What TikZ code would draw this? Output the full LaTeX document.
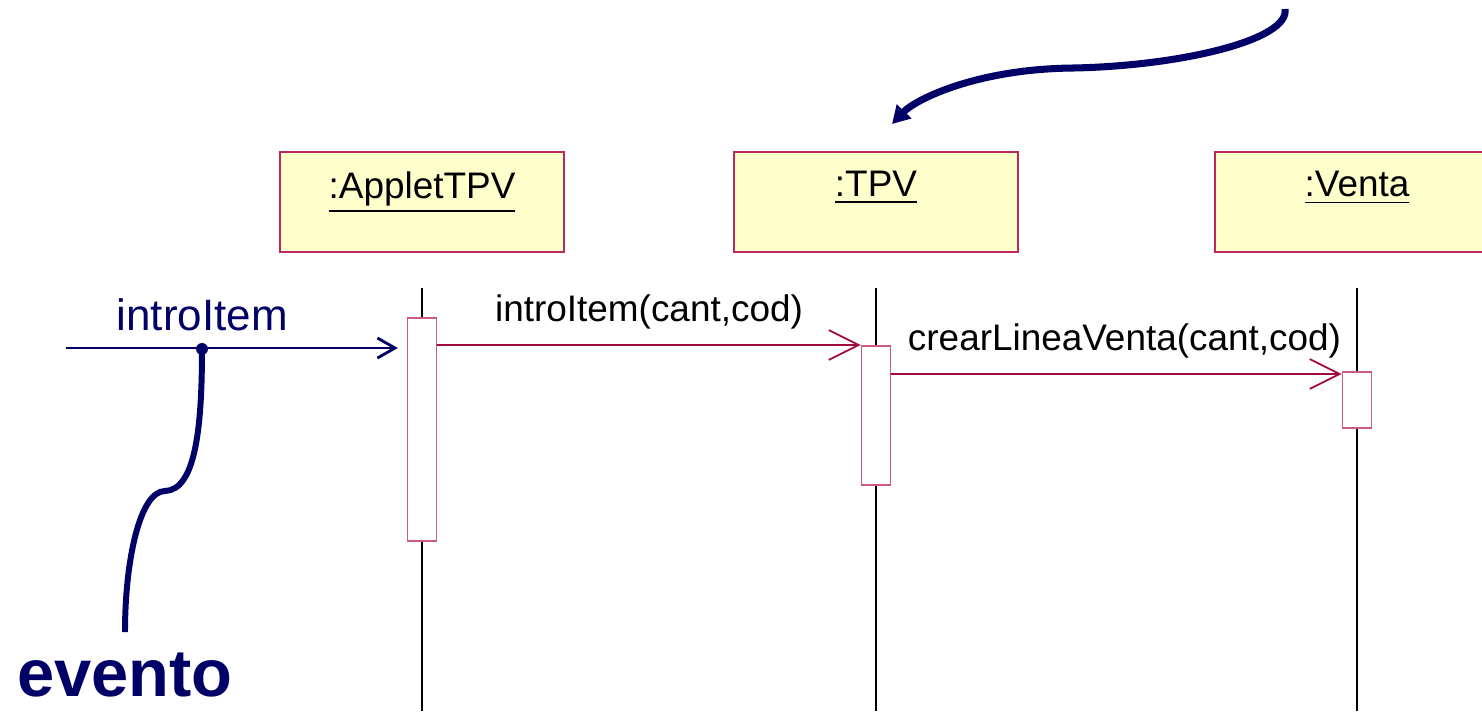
\documentclass[tikz,border=0pt]{standalone}
\usepackage{fontspec}
\setmainfont{Liberation Sans}
\usetikzlibrary{arrows.meta,positioning,calc}
\definecolor{umlred}{RGB}{160,10,60}
\definecolor{umlpink}{RGB}{190,40,90}
\definecolor{actpink}{RGB}{205,90,130}
\definecolor{umlyellow}{RGB}{255,255,204}
\definecolor{navy}{RGB}{0,0,102}

\begin{document}
\begin{tikzpicture}[
    x=0.01cm, y=-0.01cm,
    obj/.style={rectangle, draw=umlpink, fill=umlyellow, line width=0.5pt, minimum width=2.84cm, minimum height=1cm, inner sep=0pt},
    objname/.style={anchor=north, yshift=-0.08cm, font=\fontsize{10.5}{12}\selectfont},
    act/.style={rectangle, draw=actpink, fill=white, line width=0.5pt, minimum width=0.29cm, inner sep=0pt, anchor=north},
    life/.style={draw=black, line width=0.5pt},
    msg/.style={draw=umlred, line width=0.5pt, -{Straight Barb[length=8.5pt,width=8.5pt]}},
    msglabel/.style={above=1pt, font=\fontsize{10.5}{12}\selectfont},
    inmsg/.style={draw=navy, line width=0.8pt, shorten >=2.5pt, -{Straight Barb[length=5pt,width=5.7pt]}},
    inlabel/.style={above=1pt, text=navy, font=\fontsize{12.5}{14}\selectfont},
    dot/.style={circle, fill=navy, inner sep=0pt, minimum size=3.4pt},
    evline/.style={draw=navy, line width=1.7pt},
    bigarrow/.style={draw=navy, line width=2pt, -{Triangle[length=5pt,width=5.5pt]}}
]
    \useasboundingbox (0,0) rectangle (1482,711);
    \clip (0,0) rectangle (1482,711);

    % Objects
    \node[obj, label={[objname]north:\underline{:AppletTPV}}] (applet) at (422,202) {};
    \node[obj, label={[objname]north:\underline{:TPV}}] (tpv) at (876,202) {};
    \node[obj, label={[objname]north:\underline{:Venta}}] (venta) at (1357,202) {};

    % Lifelines
    \draw[life] (applet.south |- 0,288) -- (applet.south |- 0,711);
    \draw[life] (tpv.south |- 0,288) -- (tpv.south |- 0,711);
    \draw[life] (venta.south |- 0,288) -- (venta.south |- 0,711);

    % Activations
    \node[act, minimum height=2.23cm] (actApplet) at (applet.south |- 0,317) {};
    \node[act, minimum height=1.39cm] (actTpv) at (tpv.south |- 0,345) {};
    \node[act, minimum height=0.56cm] (actVenta) at (venta.south |- 0,371) {};

    % Messages
    \draw[msg] (actApplet.east |- actTpv.north) -- node[msglabel] {introItem(cant,cod)} (actTpv.north west);
    \draw[msg] (actTpv.east |- 0,374) -- node[msglabel, xshift=0.08cm] {crearLineaVenta(cant,cod)} (actVenta.west |- 0,374);

    % Incoming event
    \coordinate (start) at (66,348);
    \draw[inmsg] (start) -- node[pos=0.4, inlabel] {introItem} (actApplet.west |- start);
    \node[dot] (ev) at (202,349) {};
    \node[inner sep=0pt, text=navy, font=\fontsize{19}{22}\selectfont\bfseries] (evtxt) at (125,675) {evento};
    \coordinate (evtip) at (125,632);
    \draw[evline] (ev.center) .. controls (202,430) and (195,490) .. (165,491)
        .. controls (140,491) and (125,560) .. (evtip);

    % Pointer to :TPV
    \coordinate (topstart) at (1285,9);
    \coordinate (toptip) at (892,124);
    \draw[bigarrow] (topstart) .. controls (1290,40) and (1180,66) .. (1073,68)
        .. controls (975,69) and (915,100) .. (toptip);
\end{tikzpicture}
\end{document}
